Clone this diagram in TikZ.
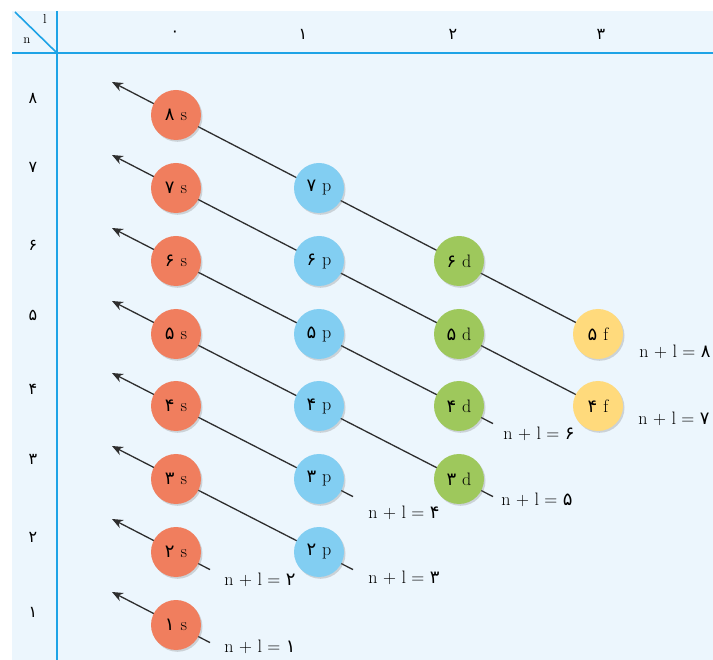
\documentclass[tikz,border=0pt]{standalone}
\usepackage{fontspec}
\usetikzlibrary{arrows.meta,calc,shadows}
\newfontfamily\fa[Script=Arabic]{DejaVu Sans}
\definecolor{bg}{HTML}{ECF6FD}
\definecolor{tbl}{HTML}{1DA3E6}
\definecolor{sc}{HTML}{F07E5E}
\definecolor{pc}{HTML}{82CEF2}
\definecolor{dc}{HTML}{9EC85C}
\definecolor{fc}{HTML}{FFDA7C}
\definecolor{ln}{HTML}{2E2E2E}
\tikzset{
  orb/.style={circle, minimum size=50pt, inner sep=0pt,
    font=\fontsize{18}{18}\selectfont,
    drop shadow={opacity=0.3, shadow xshift=1.5pt, shadow yshift=-1.8pt}},
  sorb/.style={orb, fill=sc},
  porb/.style={orb, fill=pc},
  dorb/.style={orb, fill=dc},
  forb/.style={orb, fill=fc},
  conn/.style={ln, line width=1.3pt, -{Stealth[length=11pt,width=9pt]}},
  sumlab/.style={font=\fontsize{18}{18}\selectfont, inner sep=1pt},
  headlab/.style={font=\fontsize{16}{16}\selectfont\fa, inner sep=1pt},
  tline/.style={tbl, line width=2pt}
}
\newcommand{\orbtxt}[2]{{\fa #1}\,\,#2}
\begin{document}
\begin{tikzpicture}[x=1pt,y=-1pt]
\useasboundingbox (0,0) rectangle (713,660);
\fill[bg] (12,11) rectangle (713,660);
% table
\draw[tline] (57,11) -- (57,660);
\draw[tline] (12,53) -- (713,53);
\draw[tbl, line width=1.6pt] (15,12) -- (57,53);
\node[font=\fontsize{13}{13}\selectfont, inner sep=0pt] (lhead) at (45,19) {l};
\node[font=\fontsize{13}{13}\selectfont, inner sep=0pt] (nhead) at (27,41) {n};
% column headers
\node[headlab] (c0) at (175,34) {۰};
\node[headlab] (c1) at (303,34) {۱};
\node[headlab] (c2) at (453,34) {۲};
\node[headlab] (c3) at (601,34) {۳};
% row labels
\node[headlab] (r8) at (33,98) {۸};
\node[headlab] (r7) at (33,167) {۷};
\node[headlab] (r6) at (33,245) {۶};
\node[headlab] (r5) at (33,315) {۵};
\node[headlab] (r4) at (33,389) {۴};
\node[headlab] (r3) at (33,459) {۳};
\node[headlab] (r2) at (33,537) {۲};
\node[headlab] (r1) at (33,612) {۱};
% orbital coordinates
\coordinate (S8) at (176,115);
\coordinate (S7) at (176,188);
\coordinate (S6) at (176,261);
\coordinate (S5) at (176,334);
\coordinate (S4) at (176,406);
\coordinate (S3) at (176,479);
\coordinate (S2) at (176,552);
\coordinate (S1) at (176,625);
\coordinate (P7) at (319,188);
\coordinate (P6) at (319,261);
\coordinate (P5) at (319,334);
\coordinate (P4) at (319,406);
\coordinate (P3) at (319,479);
\coordinate (P2) at (319,552);
\coordinate (D6) at (459,261);
\coordinate (D5) at (459,334);
\coordinate (D4) at (459,406);
\coordinate (D3) at (459,479);
\coordinate (F5) at (598,334);
\coordinate (F4) at (598,406);
% tails / tips
\coordinate (t8) at (F5);
\coordinate (t7) at (F4);
\coordinate (t6) at ($(D4)+(34,17.6)$);
\coordinate (t5) at ($(D3)+(34,17.6)$);
\coordinate (t4) at ($(P3)+(34,17.6)$);
\coordinate (t3) at ($(P2)+(34,17.6)$);
\coordinate (t2) at ($(S2)+(34,17.6)$);
\coordinate (t1) at ($(S1)+(34,17.6)$);
\foreach \k in {1,...,8}{
  \coordinate (a\k) at ($(S\k)+(-64,-33)$);
  \draw[conn] (t\k) -- (a\k);
}
% orbitals
\node[sorb] (s8) at (S8) {\orbtxt{۸}{s}};
\node[sorb] (s7) at (S7) {\orbtxt{۷}{s}};
\node[sorb] (s6) at (S6) {\orbtxt{۶}{s}};
\node[sorb] (s5) at (S5) {\orbtxt{۵}{s}};
\node[sorb] (s4) at (S4) {\orbtxt{۴}{s}};
\node[sorb] (s3) at (S3) {\orbtxt{۳}{s}};
\node[sorb] (s2) at (S2) {\orbtxt{۲}{s}};
\node[sorb] (s1) at (S1) {\orbtxt{۱}{s}};
\node[porb] (p7) at (P7) {\orbtxt{۷}{p}};
\node[porb] (p6) at (P6) {\orbtxt{۶}{p}};
\node[porb] (p5) at (P5) {\orbtxt{۵}{p}};
\node[porb] (p4) at (P4) {\orbtxt{۴}{p}};
\node[porb] (p3) at (P3) {\orbtxt{۳}{p}};
\node[porb] (p2) at (P2) {\orbtxt{۲}{p}};
\node[dorb] (d6) at (D6) {\orbtxt{۶}{d}};
\node[dorb] (d5) at (D5) {\orbtxt{۵}{d}};
\node[dorb] (d4) at (D4) {\orbtxt{۴}{d}};
\node[dorb] (d3) at (D3) {\orbtxt{۳}{d}};
\node[forb] (f5) at (F5) {\orbtxt{۵}{f}};
\node[forb] (f4) at (F4) {\orbtxt{۴}{f}};
% n+l labels
\node[sumlab] (l8) at (675,352) {n + l = {\fa ۸}};
\node[sumlab] (l7) at (674,419) {n + l = {\fa ۷}};
\node[sumlab] (l6) at (539,434) {n + l = {\fa ۶}};
\node[sumlab] (l5) at (537,500) {n + l = {\fa ۵}};
\node[sumlab] (l4) at (404,513) {n + l = {\fa ۴}};
\node[sumlab] (l3) at (404,578) {n + l = {\fa ۳}};
\node[sumlab] (l2) at (260,580) {n + l = {\fa ۲}};
\node[sumlab] (l1) at (260,647) {n + l = {\fa ۱}};
\end{tikzpicture}
\end{document}
